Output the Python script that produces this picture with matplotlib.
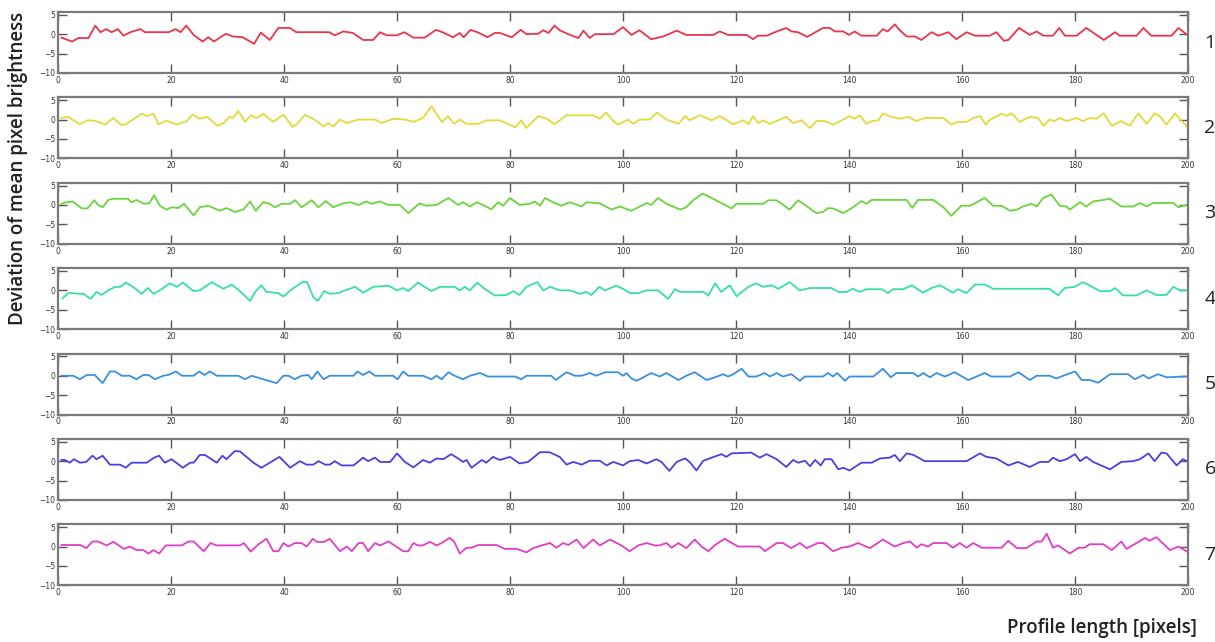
import matplotlib.pyplot as plt

# profile 1 (red)
x1 = [0.6, 2.5, 3.6, 5.4, 6.6, 7.5, 8.5, 9.5, 10.6, 11.6, 12.8, 14.6, 15.4, 19.6, 20.8, 21.7, 22.7, 24.0,
      25.6, 26.6, 27.6, 29.7, 30.9, 32.7, 34.7, 35.9, 37.5, 39.0, 41.0, 42.2, 48.0, 49.0, 50.5, 52.2, 54.0,
      55.8, 57.0, 58.2, 60.0, 61.3, 62.9, 64.9, 66.9, 68.2, 69.9, 71.1, 71.8, 73.0, 74.4, 76.0, 77.3, 78.2,
      80.3, 81.9, 82.9, 85.0, 85.9, 86.8, 87.9, 88.8, 90.3, 92.1, 93.0, 94.1, 95.0, 98.3, 100.0, 101.5,
      102.9, 105.0, 107.1, 109.5, 111.2, 116.0, 117.1, 118.6, 121.9, 123.0, 123.9, 125.4, 126.9, 128.9,
      129.8, 131.0, 132.6, 135.4, 136.6, 137.5, 139.0, 140.0, 141.0, 142.2, 144.9, 146.0, 146.8, 148.1,
      149.0, 150.2, 151.7, 152.8, 154.6, 155.8, 157.6, 159.0, 160.8, 162.3, 164.9, 166.1, 167.4, 168.2,
      170.1, 172.0, 173.2, 174.4, 176.1, 177.2, 178.2, 180.3, 182.0, 185.1, 187.1, 187.9, 190.9, 192.1,
      193.5, 197.1, 198.3, 199.7]
y1 = [-0.9, -1.9, -1.0, -1.0, 2.2, 0.5, 1.3, 0.5, 1.3, -0.4, 0.5, 1.3, 0.5, 0.5, 1.3, 0.5, 2.2, -0.2,
      -1.9, -0.8, -1.9, 0.1, -0.6, -0.8, -2.5, 0.4, -1.5, 1.6, 1.6, 0.5, 0.5, -0.3, 0.7, 0.3, -1.5,
      -1.5, 0.5, -0.3, -0.3, 0.5, -0.9, -0.9, 1.1, 0.4, -0.8, 0.3, -0.8, 1.1, 0.4, -0.8, 0.3, 0.3,
      -0.8, 1.1, 0.0, 0.1, 1.0, 0.3, 2.2, 1.0, 0.0, -1.0, 0.9, -1.0, 0.0, 0.0, 1.8, -0.2,
      1.0, -1.3, -0.6, 0.9, -0.2, -0.2, 0.7, -0.2, -0.2, -1.3, -0.4, -0.4, 0.5, 1.6,
      0.7, 0.5, -0.7, 1.6, 1.6, 0.7, 0.7, -0.2, 0.7, -0.4, -0.4, 1.3, 0.7, 2.5,
      1.0, -0.6, -0.6, -1.5, 0.5, -0.4, 0.5, -1.3, 0.5, -0.4, -0.4, 0.5, -1.7, -1.5,
      1.6, -0.2, 0.7, -0.4, -0.4, 1.6, -0.4, -0.4, 1.6, -1.5, 0.5, -0.4, -0.4, 1.6,
      -0.4, -0.4, 1.6, 0.0]

# profile 2 (yellow)
x2 = [0.6, 1.8, 3.8, 5.2, 6.5, 8.3, 9.8, 11.1, 11.9, 14.8, 15.7, 16.9, 17.8, 19.2, 21.0, 22.8, 23.8,
      25.1, 26.4, 28.2, 29.3, 30.4, 31.0, 31.9, 33.1, 34.1, 35.2, 36.3, 38.1, 39.9, 41.5, 42.2, 43.7,
      45.2, 47.0, 47.8, 48.7, 49.9, 51.1, 53.2, 56.1, 57.3, 59.3, 61.5, 62.9, 64.6, 66.1, 68.0, 69.0,
      70.1, 71.1, 72.3, 74.4, 75.8, 78.2, 80.9, 82.0, 82.9, 85.0, 86.5, 87.9, 90.0, 94.7, 95.9, 97.0,
      98.3, 99.1, 100.9, 101.8, 103.0, 104.7, 106.0, 107.7, 109.8, 111.0, 111.8, 113.6, 115.7, 117.1,
      119.5, 121.3, 122.2, 123.0, 123.9, 124.8, 126.0, 128.9, 130.1, 131.6, 133.1, 134.2, 135.7, 137.2,
      139.0, 140.1, 141.0, 141.9, 143.1, 144.0, 145.2, 146.0, 147.5, 149.0, 150.5, 151.9, 153.4, 156.7,
      158.1, 159.3, 160.8, 162.0, 163.2, 164.2, 165.0, 167.0, 167.9, 168.8, 170.2, 172.0, 173.5, 174.4,
      175.5, 176.4, 177.3, 178.5, 180.3, 181.4, 182.6, 183.8, 185.1, 186.5, 188.2, 189.7, 191.2, 192.7,
      194.1, 195.0, 196.2, 197.7, 198.9, 199.9]
y2 = [0.4, 0.7, -1.2, -0.2, -0.3, -1.3, 0.4, -1.3, -1.3, 1.5, 0.9, 1.5, -1.2, -0.3, -1.3, -0.4, 1.3,
      0.2, 0.7, -1.6, -0.9, 0.7, 0.4, 2.2, -0.6, 1.1, 0.4, 1.5, -0.6, 1.3, -1.9, -1.3, 1.2,
      0.2, -1.8, -0.9, -1.8, 0.0, -0.9, 0.0, 0.0, -0.9, 0.2, 0.0, -0.6, 0.4, 3.4, -0.7, 0.9,
      -1.1, 0.0, -1.1, -1.1, -0.2, -0.2, -2.0, -0.2, -2.2, 0.9, 0.2, -1.2, 1.1, 1.1, 0.2, 1.8,
      -0.4, -1.3, 0.0, -1.1, 0.0, 0.0, 1.8, 0.0, -1.1, 0.9, -0.2, 1.1, -0.2, 0.9,
      -1.2, -0.2, -1.2, 0.9, -0.9, -0.2, -1.1, 0.7, -0.9, -0.2, -2.2, -0.4, -0.4, -1.3,
      0.0, 0.9, 0.2, 1.1, -1.1, -0.4, -0.2, 1.6, 0.7, 0.2, 0.7, -0.4, 0.4, 0.4,
      -1.3, -0.6, -0.6, 0.4, 0.9, -1.3, 0.0, 1.5, 0.9, 1.6, -0.6, 0.7, 0.4, -1.6,
      0.0, -0.4, 0.4, -0.4, 0.4, -0.4, 0.4, 0.2, 1.6, -1.6, -0.4, -1.6, 1.6, -1.1,
      1.6, 0.9, -1.3, 1.6, -0.4, -1.9]

# profile 3 (green)
x3 = [0.6, 1.5, 2.6, 4.2, 5.2, 6.4, 7.1, 7.9, 8.9, 9.8, 12.4, 13.0, 13.9, 15.2, 16.2, 17.0, 18.0, 19.2,
      20.1, 21.3, 22.3, 24.0, 25.1, 26.6, 28.7, 29.8, 31.3, 32.8, 34.0, 35.0, 36.3, 37.4, 38.4, 39.6,
      41.1, 42.0, 43.1, 44.9, 46.1, 47.4, 48.7, 50.2, 51.7, 53.2, 54.6, 55.5, 57.0, 58.5, 60.5, 62.0,
      64.0, 65.2, 67.0, 69.1, 70.8, 71.7, 72.9, 74.1, 75.5, 76.7, 77.9, 78.8, 80.0, 81.7, 83.5, 84.4,
      85.3, 86.2, 87.6, 89.1, 90.6, 92.7, 93.5, 95.9, 98.0, 99.4, 101.5, 103.0, 104.2, 105.0, 106.2,
      107.7, 110.1, 111.2, 112.4, 114.1, 115.4, 117.1, 119.2, 120.1, 124.8, 125.7, 127.2, 129.5, 131.0,
      132.4, 134.2, 135.4, 136.3, 137.2, 139.0, 140.7, 142.2, 143.1, 144.0, 150.2, 151.2, 152.2, 154.9,
      156.7, 158.1, 159.9, 161.4, 162.6, 164.0, 165.5, 167.0, 168.5, 169.7, 170.8, 172.3, 173.2, 174.4,
      175.8, 177.3, 178.5, 179.1, 180.9, 182.0, 183.2, 184.7, 186.2, 188.2, 190.3, 191.5, 192.7, 193.8,
      197.4, 198.3, 199.7]
y3 = [0.3, 0.7, 0.9, -0.9, -0.9, 1.2, 0.0, -0.6, 1.3, 1.6, 1.6, 0.7, 1.3, 0.3, 0.5, 2.5, -0.2, -1.2,
      -0.6, -0.8, 0.3, -2.7, -0.6, -0.2, -1.5, -0.8, -1.8, -1.2, 0.9, -1.5, 0.7, 0.3, -0.6, 0.3,
      0.3, 1.2, -0.6, 1.2, -0.6, 1.0, -0.6, 0.3, 0.7, 0.0, 0.9, 0.3, 0.9, 0.0, 0.0, -2.1,
      0.4, -0.2, 0.0, 1.8, 0.0, 0.7, -0.4, 0.7, -0.2, -1.1, 0.7, -0.2, 1.8, 0.0, 0.3, 0.9,
      -0.2, 1.8, 0.7, -0.2, 0.7, -0.4, 0.7, 0.4, -1.2, -0.4, -1.5, -0.4, 0.5, 0.0, 1.8,
      0.3, -1.2, -0.6, 1.2, 2.9, 2.0, 0.7, -0.9, 0.3, 0.3, 1.2, 1.2, -1.2, 1.2,
      -0.2, -2.1, -1.8, -0.8, -0.9, -2.1, -0.6, 1.0, 0.3, 1.3, 1.3, -0.8, 1.3, 1.3,
      -0.6, -2.8, -0.2, -0.2, 0.7, 1.8, -0.2, -0.2, -1.5, -1.2, -0.4, 0.3, -0.4, 1.8,
      2.7, -0.2, -0.4, -1.2, 0.7, -0.4, 0.9, 1.2, 1.6, -0.4, -0.4, 0.5, -0.4, 0.5,
      0.5, -0.6, 0.0]

# profile 4 (mint)
x4 = [0.8, 1.8, 4.5, 5.8, 6.8, 7.7, 8.9, 10.1, 11.0, 12.0, 13.3, 14.8, 15.9, 16.9, 18.0, 19.8, 21.0,
      22.1, 24.0, 25.1, 27.2, 29.3, 30.7, 32.2, 34.0, 34.9, 36.0, 36.9, 39.0, 39.9, 41.4, 43.3, 44.1,
      45.2, 46.0, 47.1, 48.1, 49.6, 50.8, 52.6, 54.0, 55.8, 58.5, 60.0, 61.1, 62.0, 63.7, 66.1, 67.6,
      70.2, 71.1, 72.0, 72.9, 74.2, 75.5, 77.3, 79.4, 80.6, 81.7, 82.9, 84.8, 85.9, 87.1, 88.8, 90.6,
      92.4, 93.5, 94.4, 95.8, 96.8, 98.8, 100.0, 101.2, 102.7, 104.2, 106.2, 108.0, 109.2, 110.1, 114.2,
      115.1, 116.3, 117.4, 118.3, 118.9, 120.1, 122.2, 123.6, 124.8, 126.3, 127.5, 129.5, 131.3, 133.1,
      136.9, 138.1, 139.6, 140.7, 141.9, 143.1, 145.8, 146.9, 147.8, 149.6, 151.1, 153.1, 154.6, 156.1,
      157.3, 158.4, 159.3, 160.8, 162.3, 164.0, 165.5, 175.5, 177.0, 178.2, 180.0, 181.4, 182.3, 184.4,
      186.2, 187.1, 188.5, 190.9, 192.7, 194.4, 196.2, 197.4, 198.6, 199.7]
y4 = [-2.1, -0.7, -0.9, -2.2, -0.4, -1.2, 0.0, 0.9, 0.9, 2.0, 0.9, -0.9, 0.6, -0.9, 0.0, 1.8, 0.9,
      2.0, -0.2, 0.0, 2.1, 0.4, 1.5, -0.2, -2.7, -0.4, 1.3, -0.4, -0.7, -1.6, 0.3, 2.2, 2.1,
      -1.8, -2.7, -0.2, -0.9, -0.7, 0.0, 0.9, -0.6, 0.9, 1.2, 0.0, 0.6, -0.2, 2.0, -0.2, 0.9,
      0.9, 0.0, 0.9, 0.0, 2.0, 0.4, -1.3, -1.2, -0.2, -1.2, 0.9, 2.1, 0.0, 0.9, 0.0, 0.0,
      -0.9, -0.4, -1.2, 0.9, 0.0, 1.2, 0.4, -0.7, -0.7, 0.0, 0.0, -2.2, 0.3, -0.4, -0.4,
      -1.3, 1.8, -0.4, 0.6, 1.3, -1.5, 0.9, 1.8, 0.9, 1.3, 0.4, 2.1, 0.0, 0.6,
      0.6, -0.4, -0.4, 0.4, -0.4, 0.3, 0.3, -0.7, 0.3, 0.3, 1.3, -0.6, 0.6, 1.3,
      0.3, -0.6, 0.3, -0.7, 1.5, 1.5, 0.4, 0.4, -1.3, 0.6, 0.9, 2.1, 1.5, -0.2,
      -0.2, 0.6, -1.3, -1.3, 0.0, -1.2, -1.2, 0.9, 0.0, 0.0]

# profile 5 (blue)
x5 = [0.6, 2.7, 3.9, 5.1, 6.5, 7.9, 9.2, 10.1, 11.3, 12.7, 13.9, 15.1, 16.0, 17.2, 18.6, 19.5, 20.9,
      21.9, 24.0, 25.0, 25.9, 26.9, 28.1, 31.9, 33.1, 34.3, 36.3, 38.7, 39.9, 40.8, 41.9, 43.1, 44.3,
      44.9, 45.9, 47.0, 48.1, 52.3, 53.0, 54.0, 55.1, 56.1, 59.3, 60.1, 61.1, 62.0, 64.6, 66.1, 67.0,
      67.9, 69.1, 70.2, 71.7, 72.9, 74.7, 76.1, 80.9, 82.0, 82.9, 87.3, 88.1, 90.0, 91.5, 92.7, 94.1,
      95.3, 96.8, 99.1, 100.0, 100.6, 101.5, 102.4, 103.6, 105.0, 106.5, 107.7, 109.8, 111.2, 112.7,
      114.8, 116.3, 117.7, 118.6, 119.5, 121.0, 122.2, 123.6, 125.1, 126.0, 127.2, 128.3, 129.8, 131.3,
      132.2, 135.4, 136.3, 137.2, 137.9, 139.3, 140.1, 144.3, 146.0, 147.4, 148.4, 151.4, 152.2, 153.2,
      154.3, 155.5, 157.0, 158.7, 161.1, 162.6, 164.0, 165.2, 168.5, 170.0, 172.0, 173.2, 175.5, 176.7,
      177.9, 180.0, 181.2, 182.6, 184.1, 186.2, 189.4, 190.6, 192.1, 193.0, 194.7, 196.2, 199.7]
y5 = [0.0, 0.0, -0.9, 0.2, 0.2, -1.9, 1.1, 1.1, 0.0, 0.0, -0.9, 0.2, 0.2, -0.9, 0.0, 0.2, 1.1,
      0.0, 0.0, 1.1, 0.2, 1.1, 0.0, 0.0, -0.9, 0.0, -0.9, -1.9, 0.0, 0.0, -0.9, 0.0, 0.2,
      -0.9, 1.1, -0.9, 0.0, 0.0, 1.1, 0.2, 1.1, 0.0, 0.0, -0.9, 1.1, 0.0, 0.0, -0.9, 0.0,
      -0.9, 0.9, 0.0, -0.9, 0.0, 0.7, -0.2, -0.2, -0.9, 0.0, 0.0, -1.1, 0.9, 0.0, 0.0, 0.7,
      0.0, 0.9, 0.9, 0.0, 0.7, -0.7, -1.3, -0.4, 0.7, -0.2, 0.7, -1.1, 0.0, 0.9,
      -1.1, -0.4, 0.4, -0.2, 0.4, 1.8, -0.2, -0.2, 0.7, -0.2, 0.7, -0.2, 0.4, -1.3,
      -0.2, -0.2, 0.7, -0.2, 0.7, -1.3, -0.2, -0.2, 1.8, -0.4, 0.7, 0.7, -0.2, 0.7,
      -0.4, 0.7, -0.2, 0.9, -1.1, -0.2, 0.7, -0.2, -0.2, 0.9, -1.1, 0.0, 0.0, -0.7,
      0.0, 1.1, -1.1, -1.1, -1.8, 0.4, 0.4, -0.9, 0.2, -0.7, 0.4, -0.4, -0.2]

# profile 6 (indigo)
x6 = [0.6, 1.2, 2.1, 2.8, 3.9, 5.0, 6.1, 6.8, 7.9, 9.2, 11.0, 12.0, 13.0, 15.7, 17.0, 17.9, 18.9, 20.1,
      22.1, 23.4, 24.0, 25.1, 26.0, 28.1, 29.1, 29.8, 31.3, 32.2, 34.6, 36.0, 39.2, 41.1, 42.8, 44.0,
      45.2, 46.1, 47.3, 48.1, 49.0, 50.2, 52.3, 54.0, 54.9, 56.1, 57.0, 58.8, 60.0, 61.4, 62.9, 64.6,
      65.8, 67.0, 68.2, 69.6, 70.8, 71.7, 72.3, 73.2, 75.0, 75.8, 77.0, 78.2, 80.0, 81.7, 83.2, 85.3,
      87.0, 88.8, 90.0, 91.2, 92.7, 94.1, 95.9, 97.1, 98.3, 100.0, 101.2, 102.7, 104.2, 105.9, 106.8,
      108.2, 109.5, 111.0, 111.8, 113.0, 114.2, 115.7, 117.4, 118.3, 119.2, 122.7, 124.2, 125.4, 127.2,
      128.9, 130.1, 131.0, 132.2, 133.1, 134.0, 135.0, 135.7, 136.9, 138.1, 139.0, 140.1, 142.2, 144.0,
      145.5, 147.2, 148.1, 149.0, 150.2, 151.4, 153.4, 160.8, 163.2, 164.3, 166.1, 168.2, 169.9, 172.0,
      173.8, 175.3, 176.1, 177.3, 178.5, 180.0, 180.9, 182.0, 183.2, 186.2, 188.2, 190.3, 191.5, 193.0,
      194.1, 195.3, 196.2, 198.0, 199.1, 199.7]
y6 = [0.3, 0.3, -0.4, 0.5, -0.4, -0.2, 1.4, 0.5, 1.4, -0.9, -0.9, -1.7, -0.4, -0.4, 0.9, 1.4, -0.4, 0.5,
      -1.7, -0.4, -0.4, 1.6, 1.6, -0.4, 1.4, 0.5, 2.6, 2.5, -0.4, -1.7, 1.1, -1.7, 0.0, -0.9,
      -0.9, 0.0, -0.9, -0.9, 0.0, -1.1, -1.1, 0.9, 0.0, 0.9, -0.2, -0.2, 2.0, -0.2, -1.6, 0.3,
      -0.4, 0.7, 0.5, 1.8, 0.7, -0.2, 0.3, -1.7, 0.3, -0.4, 1.1, 0.3, 1.1, -0.6, -0.2, 2.3,
      2.3, 1.1, -0.9, -0.2, -0.9, 0.1, 0.1, -1.1, -0.2, -1.1, 0.0, 0.3, -0.6, 0.5, -0.2,
      -2.5, -0.2, 0.7, -0.2, -2.4, 0.1, 0.9, 1.8, 1.1, 2.0, 2.2, 0.9, 1.8, 0.5,
      -1.5, 0.3, -0.4, 0.1, -1.3, 0.3, -1.1, 0.5, 0.5, -2.1, -1.7, -2.4, -0.4, -0.4,
      0.7, 0.9, 1.6, 0.0, 2.0, 1.6, 0.0, 0.0, 2.0, 1.1, 0.7, -1.1, -0.2, -1.5,
      -0.2, -0.2, 0.9, 0.0, 0.5, 1.8, 0.0, 1.1, -0.2, -2.1, -0.2, 0.0, 0.5, 2.0,
      0.0, 2.2, 2.0, -1.1, 0.5, 0.1]

# profile 7 (magenta)
x7 = [0.6, 3.9, 5.0, 6.1, 7.1, 8.6, 9.8, 11.7, 12.7, 13.9, 15.1, 16.0, 16.9, 17.9, 19.1, 21.9, 23.1,
      24.0, 25.8, 27.0, 28.1, 32.2, 32.9, 34.1, 35.5, 36.9, 38.1, 39.0, 39.9, 40.8, 41.9, 43.1, 44.0,
      45.1, 45.8, 47.1, 48.1, 49.9, 51.1, 52.0, 53.2, 54.0, 54.9, 56.1, 57.0, 58.5, 61.1, 62.0, 62.9,
      63.7, 64.6, 65.8, 67.0, 67.9, 69.3, 70.1, 71.1, 72.3, 73.2, 74.4, 77.6, 79.1, 81.2, 82.9, 84.1,
      85.9, 87.1, 88.2, 89.4, 90.3, 91.8, 93.0, 94.7, 95.9, 97.7, 99.7, 101.2, 102.7, 104.2, 105.6,
      106.5, 107.7, 108.6, 109.8, 111.2, 112.7, 113.9, 115.1, 116.3, 118.0, 118.9, 120.4, 124.2, 125.1,
      127.2, 128.3, 129.8, 131.3, 132.5, 134.5, 135.4, 137.2, 138.7, 140.1, 141.6, 143.7, 146.0, 148.1,
      149.6, 150.8, 152.0, 152.8, 154.0, 154.9, 157.3, 158.4, 159.6, 160.8, 162.0, 163.5, 167.0, 168.2,
      169.7, 171.4, 173.2, 174.1, 175.0, 176.1, 177.0, 179.1, 180.6, 181.7, 182.6, 185.0, 186.5, 188.2,
      189.1, 190.3, 192.4, 193.2, 194.4, 196.8, 198.3, 199.7]
y7 = [0.4, 0.4, -0.4, 1.3, 1.3, 0.3, 1.2, -0.6, 0.0, -0.9, -0.9, -1.8, -0.9, -1.8, 0.3, 0.3, 1.3,
      1.3, -1.2, 0.9, 0.3, 0.3, 0.9, -1.3, 0.6, 2.0, -1.2, -1.2, 0.9, 0.0, 0.9, 0.9, 0.0,
      2.0, 1.2, 1.2, 2.0, -1.2, 0.0, -1.2, 0.9, 0.9, -1.2, 0.9, 0.3, 1.3, -1.2, -1.2, 0.9,
      0.3, 0.3, 1.2, 0.3, 0.9, 2.2, 1.3, -1.8, -0.3, -0.3, 0.4, 0.4, -0.6, -0.6, -1.5, -0.4,
      0.4, 0.9, -0.3, 0.9, 0.4, 1.8, -0.4, 1.8, 0.3, 1.8, 0.3, -1.2, 0.3, 0.9, 0.3,
      0.3, 0.9, -0.3, 0.9, -0.4, 1.8, 0.0, -1.2, 0.4, 2.0, 1.2, 0.0, 0.0, -1.2,
      0.9, 0.9, -0.4, 0.9, -0.4, 0.9, 0.9, -1.2, -0.3, 0.0, 0.9, -0.4, 1.8, 0.0,
      0.9, 1.3, -0.3, 0.6, 0.0, 0.9, 0.9, -0.3, 0.9, -0.3, 0.9, -0.3, -0.3, 1.5,
      -0.4, -0.4, 1.3, 1.3, 3.3, -0.3, 0.3, -1.8, -0.3, -0.3, 0.6, 0.6, -0.9, 1.3,
      -0.6, 0.4, 2.2, 1.5, 2.4, -0.9, 0.0, -1.2]

profiles = [(x1, y1), (x2, y2), (x3, y3), (x4, y4), (x5, y5), (x6, y6), (x7, y7)]
colors = ['#e8354c', '#e4d83a', '#6ad43c', '#36e0a2', '#3a90e0', '#4a40e0', '#e03ec6']
labels = ['1', '2', '3', '4', '5', '6', '7']

fig = plt.figure(figsize=(12.15, 6.42), dpi=100)
W, H = 1215.0, 642.0
left_px, right_px = 58, 1188
top0, step, h_px = 12, 85.4, 61

for i, ((xs, ys), c, lab) in enumerate(zip(profiles, colors, labels)):
    top = top0 + i * step
    ax = fig.add_axes([left_px / W, 1 - (top + h_px) / H, (right_px - left_px) / W, h_px / H])
    ax.plot(xs, ys, color=c, linewidth=1.3)
    ax.set_xlim(0, 200)
    ax.set_ylim(-10, 5.7)
    ax.set_xticks(range(0, 201, 20))
    ax.set_yticks([-10, -5, 0, 5])
    ax.tick_params(axis='both', direction='in', length=6.5, width=1.0, color='#555555',
                   labelsize=5.5, labelcolor='#333333', top=True, right=True, pad=2)
    for sp in ax.spines.values():
        sp.set_color('#7a7a7a')
        sp.set_linewidth(1.6)
    fig.text(1210 / W, 1 - (top + h_px / 2) / H, lab, fontsize=14, family='Open Sans',
             ha='center', va='center', color='#222222')

fig.text(18 / W, 1 - 168 / H, 'Deviation of mean pixel brightness', rotation=90,
         fontsize=13.5, family='Open Sans', weight='semibold', ha='center', va='center', color='#222222')
fig.text(1197 / W, 1 - 628 / H, 'Profile length [pixels]', fontsize=13.5, family='Open Sans',
         weight='semibold', ha='right', va='center', color='#222222')

fig.savefig('out.png', dpi=100)
